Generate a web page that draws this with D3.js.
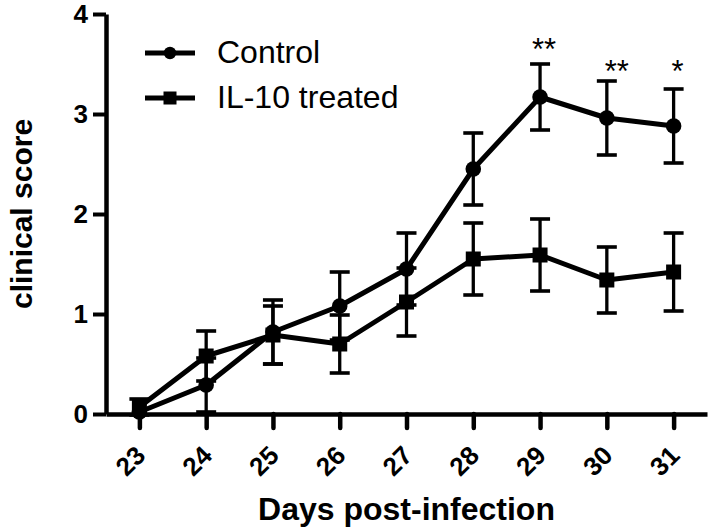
<!DOCTYPE html>
<html>
<head>
<meta charset="utf-8">
<script src="https://cdn.jsdelivr.net/npm/d3@7"></script>
<style>
  html, body { margin: 0; padding: 0; background: #fff; }
  svg { display: block; }
  text { font-family: "Liberation Sans", Arial, sans-serif; fill: #000; }
</style>
</head>
<body>
<svg id="chart" width="710" height="532"></svg>
<script>
// ---- data ----
const days = [23, 24, 25, 26, 27, 28, 29, 30, 31];
const controlMean = [0.02, 0.29, 0.82, 1.08, 1.45, 2.45, 3.17, 2.96, 2.88];
const controlErr  = [0.00, 0.27, 0.32, 0.34, 0.36, 0.36, 0.33, 0.37, 0.37];
const il10Mean    = [0.07, 0.58, 0.79, 0.70, 1.12, 1.55, 1.59, 1.34, 1.42];
const il10Err     = [0.08, 0.25, 0.29, 0.29, 0.34, 0.36, 0.36, 0.33, 0.39];
const yTicks = [0, 1, 2, 3, 4];
const seriesNames = ["Control", "IL-10 treated"];
const starDays = [29, 30, 31];
const starLabels = ["**", "**", "*"];
const starLevel = [3.54, 3.32, 3.32];
const xTitle = "Days post-infection";
const yTitle = "clinical score";

// ---- layout ----
const svg = d3.select("#chart");
const x = d3.scaleLinear().domain([22.5, 31.5]).range([106, 707]);
const y = d3.scaleLinear().domain([0, 4]).range([414, 14]);

// axes
const yAxis = svg.append("g")
  .attr("transform", `translate(${x.range()[0]},0)`)
  .call(d3.axisLeft(y).tickValues(yTicks).tickSize(13).tickSizeOuter(0).tickPadding(5).tickFormat(d3.format("d")));
yAxis.select(".domain").attr("stroke", "#000").attr("stroke-width", 4.5);
yAxis.selectAll(".tick line").attr("stroke", "#000").attr("stroke-width", 4);
yAxis.selectAll(".tick text")
  .style("font-size", "26px").style("font-weight", "bold")
  .style("font-family", '"Liberation Sans", Arial, sans-serif')
  .attr("fill", "#000");

const xAxis = svg.append("g")
  .attr("transform", `translate(0,${y(0)})`)
  .call(d3.axisBottom(x).tickValues(days).tickSize(14).tickSizeOuter(0).tickFormat(d3.format("d")));
xAxis.select(".domain").attr("stroke", "#000").attr("stroke-width", 4.5);
xAxis.selectAll(".tick line").attr("stroke", "#000").attr("stroke-width", 4.5).attr("stroke-linecap", "round");
xAxis.selectAll(".tick text")
  .style("font-size", "26px").style("font-weight", "bold")
  .style("font-family", '"Liberation Sans", Arial, sans-serif')
  .attr("fill", "#000")
  .attr("text-anchor", "end")
  .attr("dy", null)
  .attr("y", 0)
  .attr("transform", "translate(7,43) rotate(-45)");

// titles
svg.append("text")
  .attr("x", (x.range()[0] + x.range()[1]) / 2)
  .attr("y", 520)
  .attr("text-anchor", "middle")
  .style("font-size", "32px").style("font-weight", "bold")
  .text(xTitle);

svg.append("text")
  .attr("transform", `translate(32,${(y.range()[0] + y.range()[1]) / 2}) rotate(-90)`)
  .attr("text-anchor", "middle")
  .style("font-size", "30px").style("font-weight", "bold")
  .text(yTitle);

// series
const series = [
  { name: seriesNames[0], mean: controlMean, err: controlErr, shape: "circle" },
  { name: seriesNames[1], mean: il10Mean, err: il10Err, shape: "square" }
];
const capW = 20;
const line = d3.line().x(d => x(d.day)).y(d => y(d.v));

series.forEach(s => {
  const pts = days.map((d, i) => ({ day: d, v: s.mean[i], e: s.err[i] }));
  const g = svg.append("g");
  // error bars
  const eb = g.selectAll(".eb").data(pts.filter(p => p.e > 0)).enter().append("g");
  eb.append("line")
    .attr("x1", p => x(p.day)).attr("x2", p => x(p.day))
    .attr("y1", p => y(p.v - p.e)).attr("y2", p => y(p.v + p.e))
    .attr("stroke", "#000").attr("stroke-width", 3.3);
  [1, -1].forEach(sg => {
    eb.append("line")
      .attr("x1", p => x(p.day) - capW / 2).attr("x2", p => x(p.day) + capW / 2)
      .attr("y1", p => y(p.v + sg * p.e)).attr("y2", p => y(p.v + sg * p.e))
      .attr("stroke", "#000").attr("stroke-width", 3.6);
  });
  // line
  g.append("path").datum(pts).attr("d", line)
    .attr("fill", "none").attr("stroke", "#000").attr("stroke-width", 5)
    .attr("stroke-linejoin", "round");
  // markers
  if (s.shape === "circle") {
    g.selectAll(".m").data(pts).enter().append("circle")
      .attr("cx", p => x(p.day)).attr("cy", p => y(p.v)).attr("r", 7.8).attr("fill", "#000");
  } else {
    g.selectAll(".m").data(pts).enter().append("rect")
      .attr("x", p => x(p.day) - 7.5).attr("y", p => y(p.v) - 7.5)
      .attr("width", 15).attr("height", 15).attr("fill", "#000");
  }
});

// significance stars
svg.selectAll(".star").data(starDays).enter().append("text")
  .attr("x", (d, i) => x(d) + (i === 1 ? 10 : 4))
  .attr("y", (d, i) => y(starLevel[i]))
  .attr("text-anchor", "middle")
  .style("font-size", "31px")
  .text((d, i) => starLabels[i]);

// legend
const legend = svg.append("g");
const legY = [53, 98];
series.forEach((s, i) => {
  legend.append("line").attr("x1", 145).attr("x2", 195).attr("y1", legY[i]).attr("y2", legY[i])
    .attr("stroke", "#000").attr("stroke-width", 5);
  if (s.shape === "circle") {
    legend.append("circle").attr("cx", 170).attr("cy", legY[i]).attr("r", 6.2).attr("fill", "#000");
  } else {
    legend.append("rect").attr("x", 163.5).attr("y", legY[i] - 6.5).attr("width", 13).attr("height", 13).attr("fill", "#000");
  }
  legend.append("text").attr("x", 217).attr("y", legY[i] + 10)
    .style("font-size", "32px").text(s.name);
});
</script>
</body>
</html>
